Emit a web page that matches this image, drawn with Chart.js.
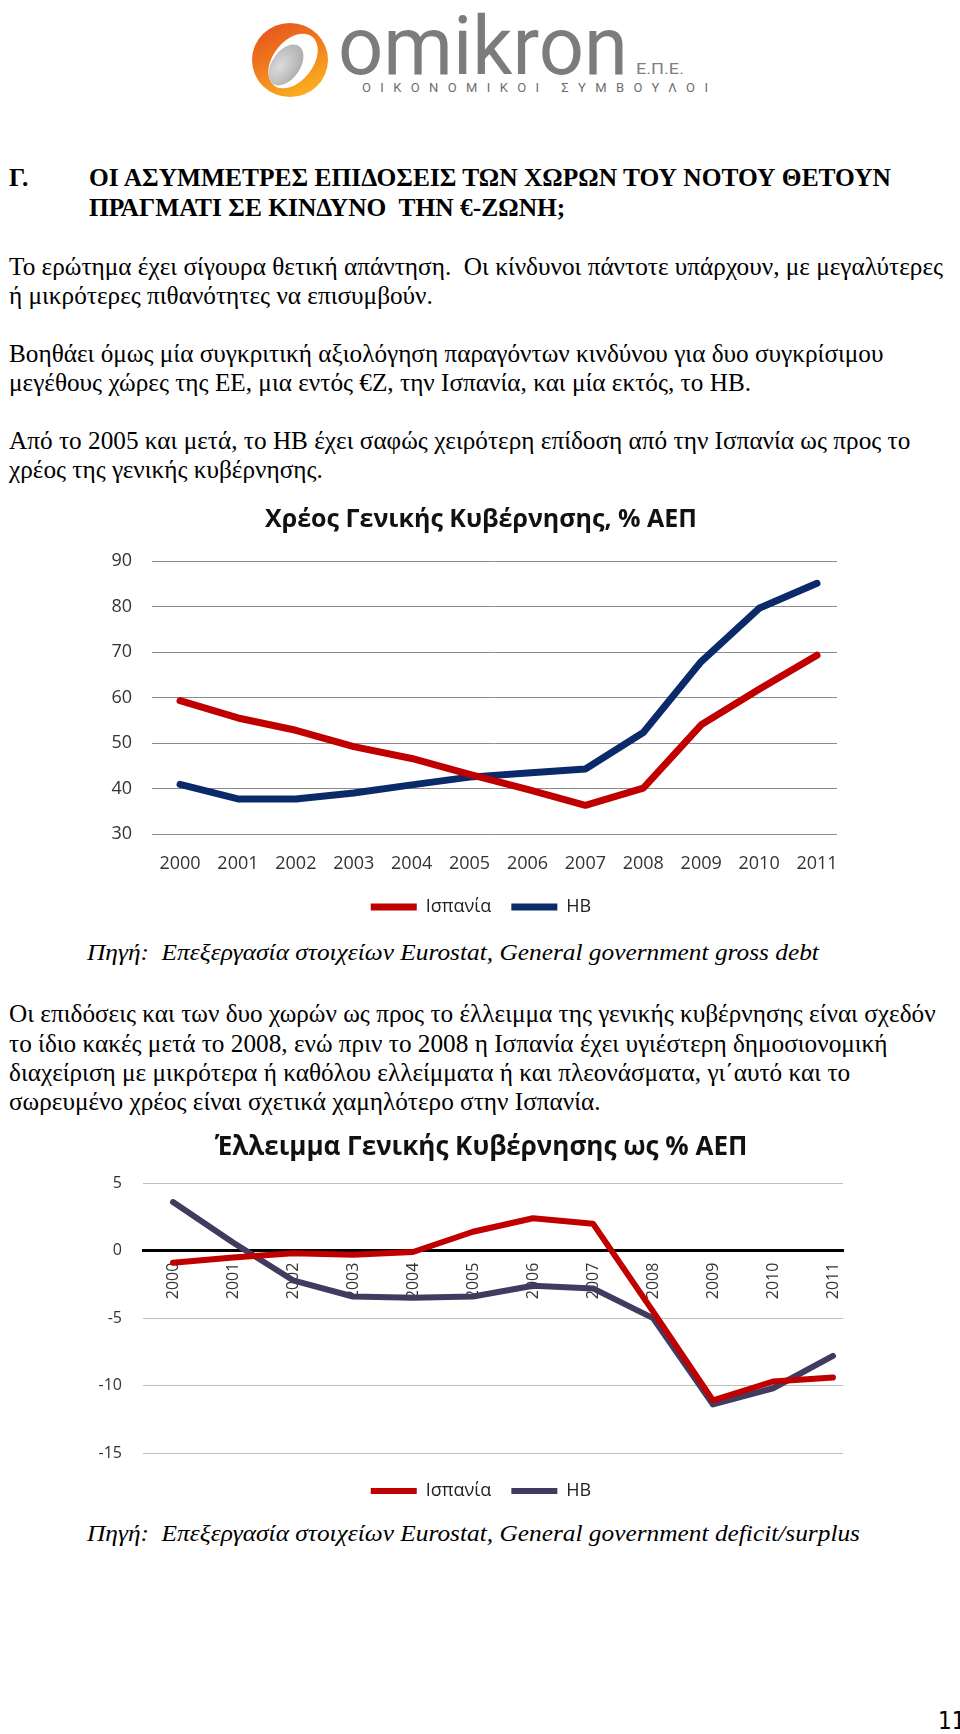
<!DOCTYPE html>
<html lang="el">
<head>
<meta charset="utf-8">
<title>Ισπανία και ΗΒ: χρέος και έλλειμμα γενικής κυβέρνησης</title>
<script src="https://cdn.jsdelivr.net/npm/chart.js@4.4.1/dist/chart.umd.min.js"></script>
<style>
  html, body { margin: 0; padding: 0; background: #fff; }
  body { width: 960px; height: 1734px; position: relative; overflow: hidden; }
  .ln {
    position: absolute; white-space: nowrap; color: #000;
    font-family: 'Liberation Serif', 'Times New Roman', serif;
    font-size: 25px; line-height: 30px; height: 30px;
    transform-origin: 0 50%;
  }
  .hd { font-weight: bold; }
  .src { font-style: italic; font-size: 23px; }
  canvas { position: absolute; left: 0; }
  #pageno {
    position: absolute; left: 938px; top: 1706px;
    font-family: 'Liberation Sans Narrow', 'DejaVu Sans Condensed', sans-serif;
    font-size: 24px; line-height: 30px; color: #000;
  }
</style>
</head>
<body>

<svg width="960" height="110" viewBox="0 0 960 110" style="position:absolute;left:0;top:0">
  <defs>
    <linearGradient id="og" x1="0" y1="0" x2="0.5" y2="1">
      <stop offset="0" stop-color="#e4501d"/>
      <stop offset="0.45" stop-color="#ee721d"/>
      <stop offset="1" stop-color="#f9ab1f"/>
    </linearGradient>
    <radialGradient id="gg" cx="0.4" cy="0.35" r="0.75">
      <stop offset="0" stop-color="#dcdcdc"/>
      <stop offset="1" stop-color="#a9a9a9"/>
    </radialGradient>
  </defs>
  <ellipse cx="290" cy="60" rx="38" ry="37" fill="url(#og)"/>
  <ellipse cx="293" cy="61" rx="31" ry="20" transform="rotate(-52 293 61)" fill="#fff"/>
  <ellipse cx="286" cy="65" rx="23" ry="14" transform="rotate(-55 286 65)" fill="url(#gg)"/>
  <text x="338" y="74" font-family="Roboto, 'Open Sans', sans-serif" font-weight="400" font-size="82" fill="#7c7c7c" textLength="290" lengthAdjust="spacingAndGlyphs">omikron</text>
  <text x="636" y="74" font-family="Roboto, sans-serif" font-size="15" fill="#808080" textLength="48" lengthAdjust="spacingAndGlyphs">Ε.Π.Ε.</text>
  <text x="362" y="92" font-family="Roboto, sans-serif" font-size="13" fill="#6e6e6e" textLength="346" lengthAdjust="spacing">ΟΙΚΟΝΟΜΙΚΟΙ ΣΥΜΒΟΥΛΟΙ</text>
</svg>

<div class="ln hd" style="left:9px;top:163px">Γ.</div>
<div class="ln hd" id="hdref" style="left:89px;top:163px">ΟΙ ΑΣΥΜΜΕΤΡΕΣ ΕΠΙΔΟΣΕΙΣ ΤΩΝ ΧΩΡΩΝ ΤΟΥ ΝΟΤΟΥ ΘΕΤΟΥΝ</div>
<div class="ln hd" style="left:89px;top:193px">ΠΡΑΓΜΑΤΙ ΣΕ ΚΙΝΔΥΝΟ&nbsp; ΤΗΝ €-ΖΩΝΗ;</div>

<div class="ln tx" id="txref" style="left:9px;top:252px">Το ερώτημα έχει σίγουρα θετική απάντηση.&nbsp; Οι κίνδυνοι πάντοτε υπάρχουν, με μεγαλύτερες</div>
<div class="ln tx" style="left:9px;top:281px">ή μικρότερες πιθανότητες να επισυμβούν.</div>

<div class="ln tx" style="left:9px;top:339px">Βοηθάει όμως μία συγκριτική αξιολόγηση παραγόντων κινδύνου για δυο συγκρίσιμου</div>
<div class="ln tx" style="left:9px;top:368px">μεγέθους χώρες της ΕΕ, μια εντός €Ζ, την Ισπανία, και μία εκτός, το ΗΒ.</div>

<div class="ln tx" style="left:9px;top:426px">Από το 2005 και μετά, το ΗΒ έχει σαφώς χειρότερη επίδοση από την Ισπανία ως προς το</div>
<div class="ln tx" style="left:9px;top:455px">χρέος της γενικής κυβέρνησης.</div>

<canvas id="debtChart" width="960" height="436" style="top:490px"></canvas>

<div class="ln src" style="left:87px;top:938px">Πηγή:&nbsp; Επεξεργασία στοιχείων Eurostat, General government gross debt</div>

<div class="ln tx" style="left:9px;top:999px">Οι επιδόσεις και των δυο χωρών ως προς το έλλειμμα της γενικής κυβέρνησης είναι σχεδόν</div>
<div class="ln tx" style="left:9px;top:1029px">το ίδιο κακές μετά το 2008, ενώ πριν το 2008 η Ισπανία έχει υγιέστερη δημοσιονομική</div>
<div class="ln tx" style="left:9px;top:1058px">διαχείριση με μικρότερα ή καθόλου ελλείμματα ή και πλεονάσματα, γι΄αυτό και το</div>
<div class="ln tx" style="left:9px;top:1087px">σωρευμένο χρέος είναι σχετικά χαμηλότερο στην Ισπανία.</div>

<canvas id="deficitChart" width="960" height="390" style="top:1120px"></canvas>

<div class="ln src" id="srcref" style="left:87px;top:1519px">Πηγή:&nbsp; Επεξεργασία στοιχείων Eurostat, General government deficit/surplus</div>

<div id="pageno">11</div>

<script>
// ---- data ----
const years = ['2000', '2001', '2002', '2003', '2004', '2005', '2006', '2007', '2008', '2009', '2010', '2011'];
const seriesNames = ['Ισπανία', 'ΗΒ'];

// General government gross debt, % of GDP
const debtSpain = [59.3, 55.5, 52.8, 49.2, 46.6, 43.1, 39.8, 36.3, 40.1, 54.0, 61.8, 69.3];
const debtUK = [40.9, 37.7, 37.7, 39.0, 40.8, 42.5, 43.4, 44.3, 52.3, 67.9, 79.6, 85.1];
const debtTicks = { min: 30, max: 90, step: 10 };

// General government deficit/surplus, % of GDP
const deficitSpain = [-0.9, -0.5, -0.2, -0.3, -0.1, 1.4, 2.4, 2.0, -4.5, -11.1, -9.7, -9.4];
const deficitUK = [3.6, 0.6, -2.2, -3.4, -3.5, -3.4, -2.6, -2.8, -5.0, -11.4, -10.2, -7.8];
const deficitTicks = { min: -15, max: 5, step: 5 };

// ---- text fitting (the scanned page is slightly condensed) ----
function fitLines(selector, refId, target) {
    const ref = document.getElementById(refId);
    const k = target / ref.getBoundingClientRect().width;
    document.querySelectorAll(selector).forEach(el => {
        el.style.transform = 'scaleX(' + k + ')';
    });
}
fitLines('.hd', 'hdref', 802);
fitLines('.tx', 'txref', 934);
fitLines('.src', 'srcref', 773);

// ---- charts ----
Chart.defaults.font.family = "'Open Sans', 'Noto Sans', sans-serif";
Chart.defaults.color = '#333';

const toPoints = arr => arr.map((v, i) => ({ x: i, y: v }));
const yearLabel = v => (Number.isInteger(v) && years[v] !== undefined) ? years[v] : '';

function lineSet(label, values, color, width) {
    return {
        label: label,
        data: toPoints(values),
        borderColor: color,
        backgroundColor: color,
        borderWidth: width,
        borderCapStyle: 'round',
        borderJoinStyle: 'round',
        pointRadius: 0,
        tension: 0
    };
}

// empty axis on the right, only there so the title/legend centre matches the page
function spacerAxis(width) {
    return {
        position: 'right',
        display: true,
        ticks: { display: false },
        grid: { display: false },
        border: { display: false },
        afterFit: s => { s.width = width; }
    };
}

const legendLabels = {
    usePointStyle: true,
    pointStyle: 'line',
    pointStyleWidth: 46,
    padding: 20,
    color: '#222',
    font: { size: 18 }
};

new Chart(document.getElementById('debtChart'), {
    type: 'line',
    data: {
        datasets: [
            lineSet(seriesNames[0], debtSpain, '#c00000', 7),
            lineSet(seriesNames[1], debtUK, '#0b2a6a', 7)
        ]
    },
    options: {
        responsive: false,
        animation: false,
        devicePixelRatio: 1,
        layout: { padding: { left: 85, right: 83, top: 0, bottom: 0 } },
        plugins: {
            title: {
                display: true,
                text: 'Χρέος Γενικής Κυβέρνησης, % ΑΕΠ',
                color: '#111',
                font: { size: 25, weight: 'bold', lineHeight: 1.2 },
                padding: { top: 15, bottom: 26 }
            },
            legend: { position: 'bottom', labels: legendLabels },
            tooltip: { enabled: false }
        },
        scales: {
            x: {
                type: 'linear',
                min: -0.484,
                max: 11.345,
                grid: { display: false },
                border: { display: false },
                ticks: {
                    stepSize: 1, includeBounds: false, autoSkip: false,
                    maxRotation: 0, padding: 11,
                    font: { size: 18 }, color: '#333',
                    callback: yearLabel
                },
                afterFit: s => { s.height = 44; }
            },
            y: {
                min: debtTicks.min,
                max: debtTicks.max,
                ticks: { stepSize: debtTicks.step, padding: 20, font: { size: 18 }, color: '#333' },
                grid: { color: '#8c8c8c', lineWidth: 1, drawTicks: false },
                border: { display: false },
                afterFit: s => { s.width = 67; }
            },
            yRight: spacerAxis(40)
        }
    }
});

new Chart(document.getElementById('deficitChart'), {
    type: 'line',
    data: {
        datasets: [
            lineSet(seriesNames[0], deficitSpain, '#c00000', 6),
            lineSet(seriesNames[1], deficitUK, '#433b5f', 6)
        ]
    },
    options: {
        responsive: false,
        animation: false,
        devicePixelRatio: 1,
        layout: { padding: { left: 79, right: 77, top: 0, bottom: 0 } },
        plugins: {
            title: {
                display: true,
                text: 'Έλλειμμα Γενικής Κυβέρνησης ως % ΑΕΠ',
                color: '#111',
                font: { size: 26, weight: 'bold', lineHeight: 1.2 },
                padding: { top: 12, bottom: 20 }
            },
            legend: {
                position: 'bottom',
                labels: legendLabels,
                // empty title only used as spacer above the legend row
                title: { display: true, text: '', padding: 0, font: { size: 9, lineHeight: 1 } }
            },
            tooltip: { enabled: false }
        },
        scales: {
            x: {
                type: 'linear',
                position: { y: 0 },
                min: -0.5,
                max: 11.167,
                grid: { color: 'rgba(0,0,0,0)', drawTicks: false },
                border: { display: true, color: '#000', width: 3 },
                ticks: {
                    stepSize: 1, includeBounds: false, autoSkip: false,
                    minRotation: 90, maxRotation: 90, padding: 12,
                    font: { size: 16 }, color: '#333',
                    callback: yearLabel
                }
            },
            y: {
                min: deficitTicks.min,
                max: deficitTicks.max,
                ticks: { stepSize: deficitTicks.step, padding: 21, font: { size: 16 }, color: '#333' },
                grid: { color: '#bfbfbf', lineWidth: 1, drawTicks: false },
                border: { display: false },
                afterFit: s => { s.width = 64; }
            },
            yRight: spacerAxis(40)
        }
    }
});
</script>
</body>
</html>
